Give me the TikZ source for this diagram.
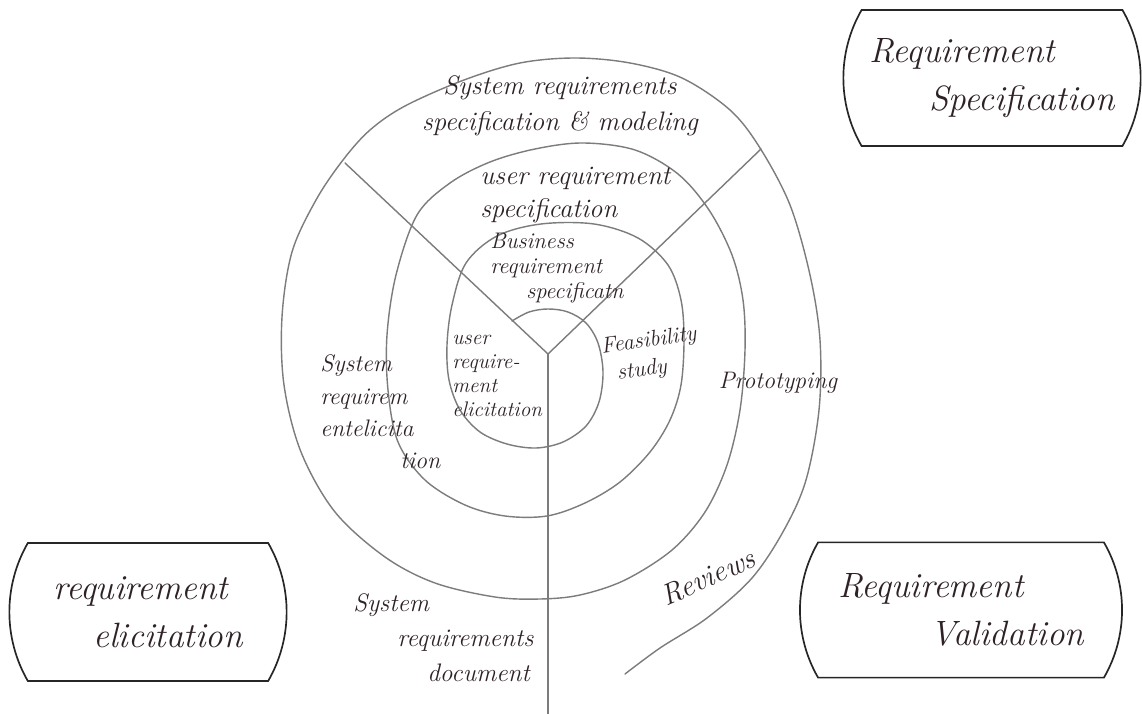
\documentclass[tikz,border=0pt]{standalone}
\usepackage{xcolor}
\usepackage{tikz}
\usetikzlibrary{shapes.misc}
\definecolor{pencil}{HTML}{7C7C7C}
\definecolor{ink}{HTML}{2E2226}
\definecolor{boxink}{HTML}{262626}

\begin{document}
\begin{tikzpicture}[x=0.025cm, y=-0.025cm,
  ring/.style={draw=pencil, line width=1pt, line cap=round},
  note/.style={text=ink, inner sep=0pt, align=left},
  phase/.style={draw=boxink, line width=1.2pt, rounded rectangle, rounded rectangle arc length=60, text=ink, inner sep=0pt, align=left, font=\itshape\fontsize{25}{34}\selectfont}]
  \useasboundingbox (0,0) rectangle (1142,714);
  \fill[white] (0,0) rectangle (1142,714);

  % the spiral, from the hub outwards
  \draw[ring] plot[smooth, tension=0.55] coordinates {
    (512,321) (529,312) (548,309) (568,312) (586,323) (598,343) (603,372) (599,402)
    (586,426) (563,442) (536,448) (507,444) (480,432) (460,410) (449,380) (447,345)
    (452,305) (466,263) (497,236) (541,224) (594,224) (638,238) (668,265) (681,300)
    (684,340) (681,385) (670,420) (650,452) (620,482) (585,503) (547,516) (505,516)
    (465,505) (425,480) (398,442) (388,390) (387,335) (396,275) (417,215) (450,183)
    (490,162) (535,149) (583,143) (635,150) (678,174) (709,210) (732,255) (743,300)
    (745,350) (740,410) (727,465) (705,512) (672,550) (625,580) (580,595) (540,599)
    (495,597) (435,583) (385,557) (335,512) (301,452) (284,385) (282,317) (292,252)
    (316,200) (343,160) (370,130) (405,106) (464,80) (520,63) (575,58) (630,63)
    (682,78) (730,110) (760,148) (790,205) (810,275) (820,340) (819,410) (806,480)
    (784,530) (752,578) (707,618) (660,648) (625,674)};

  % spokes
  \coordinate (hub) at (548,354);
  \coordinate (nwend) at (345,163);
  \coordinate (neend) at (761,149);
  \coordinate (send) at (548,714);
  \draw[ring] (nwend) -- (hub) -- (neend);
  \draw[ring] (hub) -- (send);

  % labels in the rings
  \node[note, align=center, font=\itshape\fontsize{19}{26}\selectfont] (sysspec) at (560,106) {System requirements\\specification \& modeling};
  \node[note, anchor=west, font=\itshape\fontsize{19}{24}\selectfont] (userspec) at (480,195) {user requirement\\specification};
  \node[note, anchor=west, font=\itshape\fontsize{16}{18}\selectfont] (bizspec) at (490,268) {Business\\requirement\\\hspace*{0.9cm}specificatn};
  \node[note, anchor=west, font=\itshape\fontsize{15}{17}\selectfont] (userelic) at (452,376) {user\\require-\\ment\\elicitation};
  \node[note, anchor=west, rotate=8, font=\itshape\fontsize{16}{20}\selectfont] (feas) at (603,362) {Feasibility\\\hspace*{0.3cm}study};
  \node[note, anchor=west, font=\itshape\fontsize{17}{23}\selectfont] (syselic) at (320,412) {System\\requirem\\entelicita\\\hspace*{2cm}tion};
  \node[note, font=\itshape\fontsize{17}{20}\selectfont] (proto) at (778,383) {Prototyping};
  \node[note, rotate=24, font=\itshape\fontsize{21}{24}\selectfont] (reviews) at (708,577) {Reviews};
  \node[note, anchor=west, font=\itshape\fontsize{18}{25}\selectfont] (sysdoc) at (353,638) {System\\\hspace*{1.1cm}requirements\\\hspace*{1.85cm}document};

  % the three phases
  \node[phase, minimum width=7.43cm, minimum height=3.4cm] (specbox) at (992,78) {Requirement\\\hspace*{1.5cm}Specification};
  \node[phase, minimum width=6.93cm, minimum height=3.45cm] (elicbox) at (148,612) {requirement\\\hspace*{1cm}elicitation};
  \node[phase, minimum width=8.05cm, minimum height=3.38cm] (validbox) at (961,610) {Requirement\\\hspace*{2.3cm}Validation};
\end{tikzpicture}
\end{document}
